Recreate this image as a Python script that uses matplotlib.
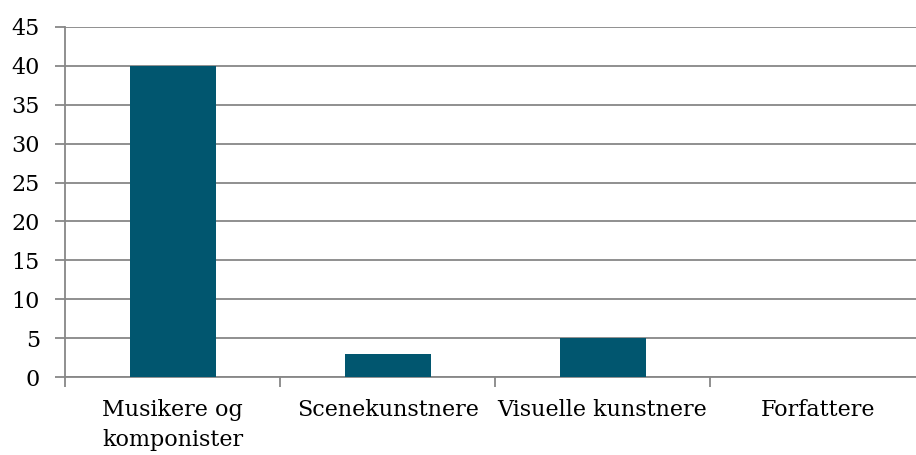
import matplotlib
matplotlib.use("Agg")
import matplotlib.pyplot as plt
import numpy as np

# data
kategorier = ["Musikere og\nkomponister", "Scenekunstnere", "Visuelle kunstnere", "Forfattere"]
antall = [40, 3, 5, 0]
yticks = [0, 5, 10, 15, 20, 25, 30, 35, 40, 45]

plt.rcParams['font.family'] = ['DejaVu Serif', 'Liberation Serif']

fig = plt.figure(figsize=(9.16, 4.55), dpi=100)
ax = fig.add_axes([0.071, 0.171, 0.939, 0.770])

x = np.arange(len(kategorier))
ax.bar(x, antall, width=0.4, color='#01566f', zorder=3)

ax.set_xlim(-0.5, len(kategorier) - 0.5)
ax.set_ylim(0, 45)
ax.set_yticks(yticks)
ax.yaxis.grid(True, color='#878787', linewidth=1.3, zorder=0)

# category boundary ticks on x axis
ax.set_xticks(np.arange(len(kategorier) + 1) - 0.5)
ax.set_xticklabels([])
ax.set_xticks(x, minor=True)
ax.set_xticklabels(kategorier, minor=True, fontsize=16, linespacing=1.45)
ax.tick_params(axis='x', which='minor', length=0, pad=16)
ax.tick_params(axis='x', which='major', length=7, width=1.3, color='#878787')
ax.tick_params(axis='y', length=7, width=1.3, color='#878787', labelsize=16, pad=11)

for s in ['top', 'right']:
    ax.spines[s].set_visible(False)
for s in ['left', 'bottom']:
    ax.spines[s].set_color('#878787')
    ax.spines[s].set_linewidth(1.3)

fig.savefig("out.png", dpi=100)
